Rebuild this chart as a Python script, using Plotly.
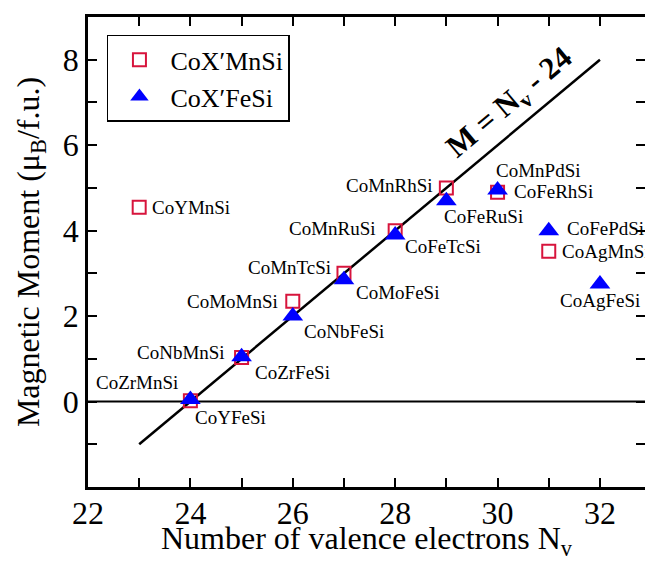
import plotly.graph_objects as go

# ---- data ----
mn_names = ["CoYMnSi", "CoZrMnSi", "CoNbMnSi", "CoMoMnSi", "CoMnTcSi",
            "CoMnRuSi", "CoMnRhSi", "CoMnPdSi", "CoAgMnSi"]
mn_nv = [23, 24, 25, 26, 27, 28, 29, 30, 31]
mn_m = [4.55, 0.02, 1.03, 2.35, 3.0, 4.0, 5.0, 4.9, 3.52]

fe_names = ["CoYFeSi", "CoZrFeSi", "CoNbFeSi", "CoMoFeSi", "CoFeTcSi",
            "CoFeRuSi", "CoFeRhSi", "CoFePdSi", "CoAgFeSi"]
fe_nv = [24, 25, 26, 27, 28, 29, 30, 31, 32]
fe_m = [0.05, 1.05, 2.0, 2.85, 3.9, 4.7, 4.95, 4.0, 2.75]

rule_nv = [23, 32]
rule_m = [-1, 8]

x_ticks = list(range(22, 33))
y_ticks = list(range(-2, 10))

FONT = "Liberation Serif"
RED = "#d7143c"

fig = go.Figure()

fig.add_trace(go.Scatter(x=[22, 33], y=[0, 0], mode="lines",
                         line=dict(color="black", width=2), showlegend=False,
                         hoverinfo="skip"))
fig.add_trace(go.Scatter(x=rule_nv, y=rule_m, mode="lines",
                         line=dict(color="black", width=2.5), showlegend=False))
fig.add_trace(go.Scatter(x=mn_nv, y=mn_m, mode="markers", name="CoX\u2032MnSi",
                         marker=dict(symbol="square-open", size=13, color=RED,
                                     line=dict(width=2, color=RED))))
fig.add_trace(go.Scatter(x=fe_nv, y=fe_m, mode="markers", name="CoX\u2032FeSi",
                         marker=dict(symbol="triangle-up", size=18, color="#0000ff")))

# label placement: (xanchor, xshift, yshift)
mn_pos = [("left", 11, 0), ("right", -10, 18), ("right", -15, 5), ("right", -13, 0),
          ("right", -11, 6), ("right", -17, 2), ("right", -11, 2), ("left", -4, 22),
          ("left", 11, 0)]
fe_pos = [("left", 3, -18), ("left", 11, -16), ("left", 9, -15), ("left", 10, -13),
          ("left", 8, -12), ("left", -4, -16), ("left", 14, -1), ("left", 16, 2),
          ("center", 0, -16)]

anns = []
for names, xs, ys, pos in [(mn_names, mn_nv, mn_m, mn_pos), (fe_names, fe_nv, fe_m, fe_pos)]:
    for n, x, y, (xa, xs_, ys_) in zip(names, xs, ys, pos):
        anns.append(dict(x=x, y=y, text=n, showarrow=False, xanchor=xa, yanchor="middle",
                         xshift=xs_, yshift=ys_, font=dict(family=FONT, size=19, color="black")))

anns.append(dict(x=30.24, y=6.97, text="<b>M = N<sub>v</sub> - 24</b>", showarrow=False,
                 textangle=-40, font=dict(family=FONT, size=31, color="black")))

fig.update_layout(
    width=645, height=561,
    margin=dict(l=88, r=0, t=17, b=74),
    paper_bgcolor="white", plot_bgcolor="white",
    font=dict(family=FONT, color="black"),
    annotations=anns,
    legend=dict(x=0.034, y=0.962, xanchor="left", yanchor="top",
                bordercolor="black", borderwidth=1.5, bgcolor="white",
                itemwidth=52,
                font=dict(family=FONT, size=26)),
    xaxis=dict(range=[22, 32.88], tickvals=x_ticks, automargin=False,
               ticktext=[str(v) if v % 2 == 0 else "" for v in x_ticks],
               ticks="inside", ticklen=9, tickwidth=2, tickcolor="black",
               showline=True, linewidth=2.5, linecolor="black", mirror="ticks",
               showgrid=False, zeroline=False, ticklabelstandoff=-4,
               tickfont=dict(family=FONT, size=32),
               title=dict(text="Number of valence electrons N<sub>v</sub>",
                          font=dict(family=FONT, size=32), standoff=4)),
    yaxis=dict(range=[-2, 9], tickvals=y_ticks, automargin=False,
               ticktext=[str(v) if v % 2 == 0 and v >= 0 else "" for v in y_ticks],
               ticks="inside", ticklen=9, tickwidth=2, tickcolor="black",
               showline=True, linewidth=2.5, linecolor="black", mirror="ticks",
               showgrid=False, zeroline=False,
               tickfont=dict(family=FONT, size=32),
               title=dict(text="Magnetic Moment (\u03bc<sub>B</sub>/f.u.)",
                          font=dict(family=FONT, size=32), standoff=14)),
)

fig.write_html("out.html", config={"displayModeBar": False},
               post_script="document.body.style.margin='0';document.body.style.overflow='hidden';")
